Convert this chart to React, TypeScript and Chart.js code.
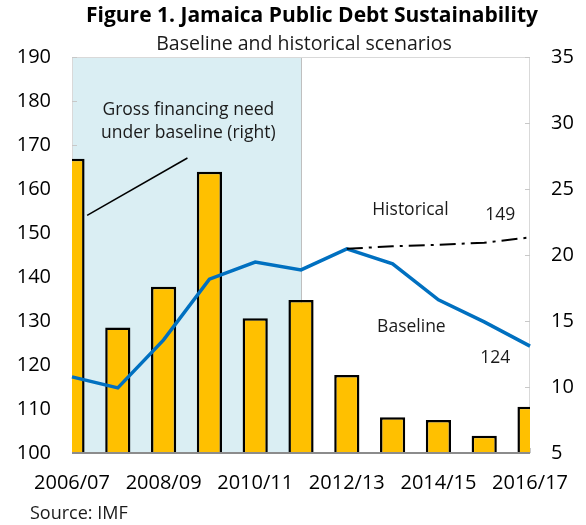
import { useEffect, useRef } from 'react';
import { Chart, registerables } from 'chart.js';

Chart.register(...registerables);

const categories = ['2006/07', '2007/08', '2008/09', '2009/10', '2010/11', '2011/12', '2012/13', '2013/14', '2014/15', '2015/16', '2016/17'];
const grossFinancingNeed = [27.3, 14.5, 17.6, 26.3, 15.2, 16.6, 10.9, 7.7, 7.5, 6.3, 8.5];
const baselineDebt = [117.3, 114.8, 125.7, 139.5, 143.4, 141.6, 146.4, 143.0, 134.8, 129.8, 124.3];
const historicalDebt = [null, null, null, null, null, null, 146.4, 147.0, 147.3, 147.8, 149.0];
const leftTicks = { min: 100, max: 190, step: 10 };
const rightTicks = { min: 5, max: 35, step: 5 };
const shadedEndIndex = 5;

const titleText = 'Figure 1. Jamaica Public Debt Sustainability';
const subtitleText = 'Baseline and historical scenarios';
const sourceText = 'Source: IMF';

const FONT = '"Open Sans", "Noto Sans", sans-serif';

const decorPlugin = {
  id: 'decor',
  beforeDatasetsDraw(chart: any) {
    const { ctx, chartArea } = chart;
    const x = chart.scales.x;
    const yL = chart.scales.y;
    const yR = chart.scales.y2;
    ctx.save();
    const xEnd = x.getPixelForValue(shadedEndIndex);
    ctx.fillStyle = '#DAEEF3';
    ctx.fillRect(chartArea.left, chartArea.top, xEnd - chartArea.left, chartArea.bottom - chartArea.top);
    ctx.strokeStyle = '#BFBFBF';
    ctx.lineWidth = 1;
    ctx.beginPath();
    ctx.moveTo(Math.round(xEnd) + 0.5, chartArea.top);
    ctx.lineTo(Math.round(xEnd) + 0.5, chartArea.bottom);
    ctx.stroke();
    ctx.strokeStyle = '#D9D9D9';
    ctx.beginPath();
    ctx.moveTo(chartArea.left + 0.5, chartArea.bottom);
    ctx.lineTo(chartArea.left + 0.5, chartArea.top + 0.5);
    ctx.lineTo(chartArea.right - 0.5, chartArea.top + 0.5);
    ctx.lineTo(chartArea.right - 0.5, chartArea.bottom);
    ctx.stroke();
    ctx.strokeStyle = '#C8C8C8';
    ctx.beginPath();
    for (let v = leftTicks.min; v <= leftTicks.max; v += leftTicks.step) {
      const py = Math.round(yL.getPixelForValue(v)) + 0.5;
      ctx.moveTo(chartArea.left, py);
      ctx.lineTo(chartArea.left + 5, py);
    }
    for (let v = rightTicks.min; v <= rightTicks.max; v += rightTicks.step) {
      const py = Math.round(yR.getPixelForValue(v)) + 0.5;
      ctx.moveTo(chartArea.right - 5, py);
      ctx.lineTo(chartArea.right, py);
    }
    for (let i = 0; i < categories.length; i++) {
      const px = Math.round(x.getPixelForValue(i)) + 0.5;
      ctx.moveTo(px, chartArea.bottom);
      ctx.lineTo(px, chartArea.bottom - 5);
    }
    ctx.stroke();
    ctx.restore();
  },
  afterDatasetsDraw(chart: any) {
    const { ctx, chartArea } = chart;
    const x = chart.scales.x;
    const yL = chart.scales.y;
    const yR = chart.scales.y2;
    ctx.save();
    ctx.strokeStyle = '#8C8C8C';
    ctx.lineWidth = 2;
    ctx.beginPath();
    ctx.moveTo(chartArea.left, chartArea.bottom);
    ctx.lineTo(chartArea.right, chartArea.bottom);
    ctx.stroke();

    ctx.strokeStyle = '#000';
    ctx.lineWidth = 1.5;
    ctx.beginPath();
    ctx.moveTo(x.getPixelForValue(0.33), yR.getPixelForValue(23.0));
    ctx.lineTo(x.getPixelForValue(2.52), yR.getPixelForValue(27.35));
    ctx.stroke();

    ctx.fillStyle = '#1a1a1a';
    ctx.textAlign = 'center';
    ctx.textBaseline = 'middle';
    ctx.font = `17.5px ${FONT}`;
    ctx.fillText('Gross financing need', x.getPixelForValue(2.54), yL.getPixelForValue(177.9));
    ctx.fillText('under baseline (right)', x.getPixelForValue(2.54), yL.getPixelForValue(172.8));
    ctx.fillText('Historical', x.getPixelForValue(7.39), yL.getPixelForValue(155.2));
    ctx.fillText('149', x.getPixelForValue(9.35), yL.getPixelForValue(154.1));
    ctx.fillText('Baseline', x.getPixelForValue(7.41), yL.getPixelForValue(128.6));
    ctx.fillText('124', x.getPixelForValue(9.24), yL.getPixelForValue(121.6));
    ctx.restore();
  },
  afterDraw(chart: any) {
    const { ctx } = chart;
    ctx.save();
    ctx.fillStyle = '#000';
    ctx.textAlign = 'center';
    ctx.textBaseline = 'middle';
    ctx.font = `bold 21px ${FONT}`;
    ctx.fillText(titleText, 312, 16);
    ctx.font = `19.5px ${FONT}`;
    ctx.fillStyle = '#1a1a1a';
    ctx.fillText(subtitleText, 304, 44);
    ctx.textAlign = 'left';
    ctx.font = `18px ${FONT}`;
    ctx.fillText(sourceText, 30, 514);
    ctx.restore();
  },
};

export default function App() {
  const canvasRef = useRef<HTMLCanvasElement | null>(null);

  useEffect(() => {
    if (!canvasRef.current) return;
    const chart = new Chart(canvasRef.current, {
      type: 'bar',
      data: {
        labels: categories,
        datasets: [
          {
            type: 'line',
            label: 'Baseline',
            data: baselineDebt,
            yAxisID: 'y',
            borderColor: '#0070C0',
            borderWidth: 3.5,
            pointRadius: 0,
            tension: 0,
            fill: false,
            order: 1,
          } as any,
          {
            type: 'line',
            label: 'Historical',
            data: historicalDebt,
            yAxisID: 'y',
            borderColor: '#000000',
            borderWidth: 2,
            borderDash: [16, 6, 3, 6],
            pointRadius: 0,
            tension: 0,
            fill: false,
            spanGaps: false,
            order: 0,
          } as any,
          {
            type: 'bar',
            label: 'Gross financing need',
            data: grossFinancingNeed,
            yAxisID: 'y2',
            backgroundColor: '#FFC000',
            borderColor: '#000000',
            borderWidth: 2.5,
            borderSkipped: 'bottom',
            categoryPercentage: 1,
            barPercentage: 0.55,
            order: 2,
          } as any,
        ],
      },
      options: {
        animation: false,
        responsive: false,
        maintainAspectRatio: false,
        layout: { padding: { top: 57, left: 0, right: 0, bottom: 0 } },
        plugins: {
          legend: { display: false },
          title: { display: false },
          tooltip: { enabled: false },
        },
        scales: {
          x: {
            type: 'category',
            offset: false,
            grid: { display: false, drawTicks: false },
            border: { display: false },
            ticks: {
              autoSkip: false,
              maxRotation: 0,
              minRotation: 0,
              padding: 18,
              color: '#000',
              font: { family: FONT, size: 20 },
              callback: (_v: any, i: number) => (i % 2 === 0 ? categories[i] : ''),
            },
            afterFit: (s: any) => { s.height = 525 - 453; },
          },
          y: {
            type: 'linear',
            position: 'left',
            min: leftTicks.min,
            max: leftTicks.max,
            grid: { display: false, drawTicks: false },
            border: { display: false },
            ticks: {
              stepSize: leftTicks.step,
              padding: 21,
              color: '#000',
              font: { family: FONT, size: 20 },
            },
            afterFit: (s: any) => { s.width = 72; },
          },
          y2: {
            type: 'linear',
            position: 'right',
            min: rightTicks.min,
            max: rightTicks.max,
            grid: { display: false, drawTicks: false },
            border: { display: false },
            ticks: {
              stepSize: rightTicks.step,
              padding: 21,
              color: '#000',
              font: { family: FONT, size: 20 },
            },
            afterFit: (s: any) => { s.width = 586 - 532; },
          },
        },
      },
      plugins: [decorPlugin],
    });
    return () => chart.destroy();
  }, []);

  return (
    <div style={{ position: 'absolute', left: 0, top: 0, width: 586, height: 525, background: '#fff' }}>
      <canvas ref={canvasRef} width={586} height={525} style={{ display: 'block' }} />
    </div>
  );
}
